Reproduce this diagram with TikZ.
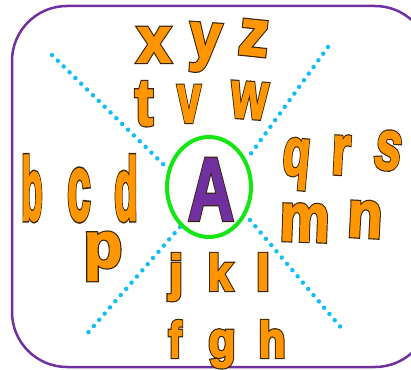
\documentclass[tikz,border=0pt]{standalone}
\usepackage{fontspec}
\setmainfont{Liberation Sans}
\usepackage{graphicx}
\usetikzlibrary{shapes.geometric}
\definecolor{frame}{RGB}{112,48,160}
\definecolor{dotc}{RGB}{20,190,245}
\definecolor{ring}{RGB}{20,230,20}
\definecolor{lettr}{RGB}{255,150,0}
\definecolor{bigA}{RGB}{112,48,160}
\newcommand\outl[1]{\rlap{\special{pdf:code q 2 Tr 4.2 w 0.22 0.14 0.02 RG}#1\special{pdf:code Q}}\special{pdf:code q 2 Tr 1.8 w}#1\special{pdf:code Q}}
% name, x, y, size, xscale, yscale, rotate, letter
\newcommand\Ltr[8]{\node[ltrstyle, rotate=-#7] (#1) at (#2,#3) {\scalebox{#5}[#6]{\fontsize{#4}{#4}\selectfont\bfseries\outl{#8}}};}
\begin{document}
\begin{tikzpicture}[x=1pt,y=-1pt,
  ltrstyle/.style={inner sep=0pt, anchor=base, text=lettr},
  dotline/.style={dotc, line width=4.5pt, line cap=round, dash pattern=on 0pt off 8.2pt}]
\useasboundingbox (0,0) rectangle (411,369);
\begin{scope}
\clip (0,0) rectangle (411,369);
\draw[frame, line width=2.5pt, rounded corners=55pt] (12,6) rectangle (430,367);
\end{scope}
% dotted diagonals
\coordinate (d1a) at (52,55); \coordinate (d1b) at (164,165);
\coordinate (d1c) at (250,220); \coordinate (d1d) at (343,330);
\coordinate (d2a) at (328,47); \coordinate (d2b) at (250,155);
\coordinate (d2c) at (180,227); \coordinate (d2d) at (86,335);
\draw[dotline] (d1a) -- (d1b);
\draw[dotline] (d1c) -- (d1d);
\draw[dotline] (d2a) -- (d2b);
\draw[dotline] (d2c) -- (d2d);
% centre
\node[draw=ring, line width=4pt, ellipse, minimum width=84pt, minimum height=100pt, inner sep=0pt] (ring) at (209,187) {};
\node[inner sep=0pt, anchor=base, text=bigA] (A) at (211,220) {\scalebox{0.7}[0.98]{\fontsize{91}{91}\selectfont\bfseries\outl{A}}};
% letters
\Ltr{lx}{154}{62}{67}{0.9}{0.97}{0}{x}
\Ltr{ly}{204}{58}{67}{0.85}{0.97}{4}{y}
\Ltr{lz}{252}{55}{67}{0.88}{0.97}{6}{z}
\Ltr{lt}{144}{125}{68}{0.8}{0.97}{0}{t}
\Ltr{lv}{189}{122}{71}{0.6}{0.97}{0}{v}
\Ltr{lw}{248}{118}{69}{0.68}{0.97}{4}{w}
\Ltr{lb}{32}{220}{70}{0.5}{1.27}{0}{b}
\Ltr{lc}{79}{220}{70}{0.6}{1.35}{0}{c}
\Ltr{ld}{126}{220}{70}{0.55}{1.27}{0}{d}
\Ltr{lp}{103}{267}{66}{0.95}{0.97}{0}{p}
\Ltr{lq}{295}{175}{70}{0.64}{0.96}{5}{q}
\Ltr{lr}{340}{174}{73}{0.66}{0.97}{3}{r}
\Ltr{ls}{385}{169}{73}{0.66}{0.97}{10}{s}
\Ltr{lm}{304}{241}{71}{0.79}{0.96}{2}{m}
\Ltr{ln}{364}{237}{68}{0.84}{0.97}{3}{n}
\Ltr{lj}{176}{290}{52}{0.95}{0.96}{0}{j}
\Ltr{lk}{220}{290}{52}{0.85}{0.96}{0}{k}
\Ltr{ll}{263}{290}{52}{0.95}{0.96}{0}{l}
\Ltr{lf}{175}{357}{52}{0.75}{0.96}{0}{f}
\Ltr{lg}{222}{357}{52}{0.85}{0.96}{0}{g}
\Ltr{lh}{272}{357}{52}{0.85}{0.96}{0}{h}
\end{tikzpicture}
\end{document}
